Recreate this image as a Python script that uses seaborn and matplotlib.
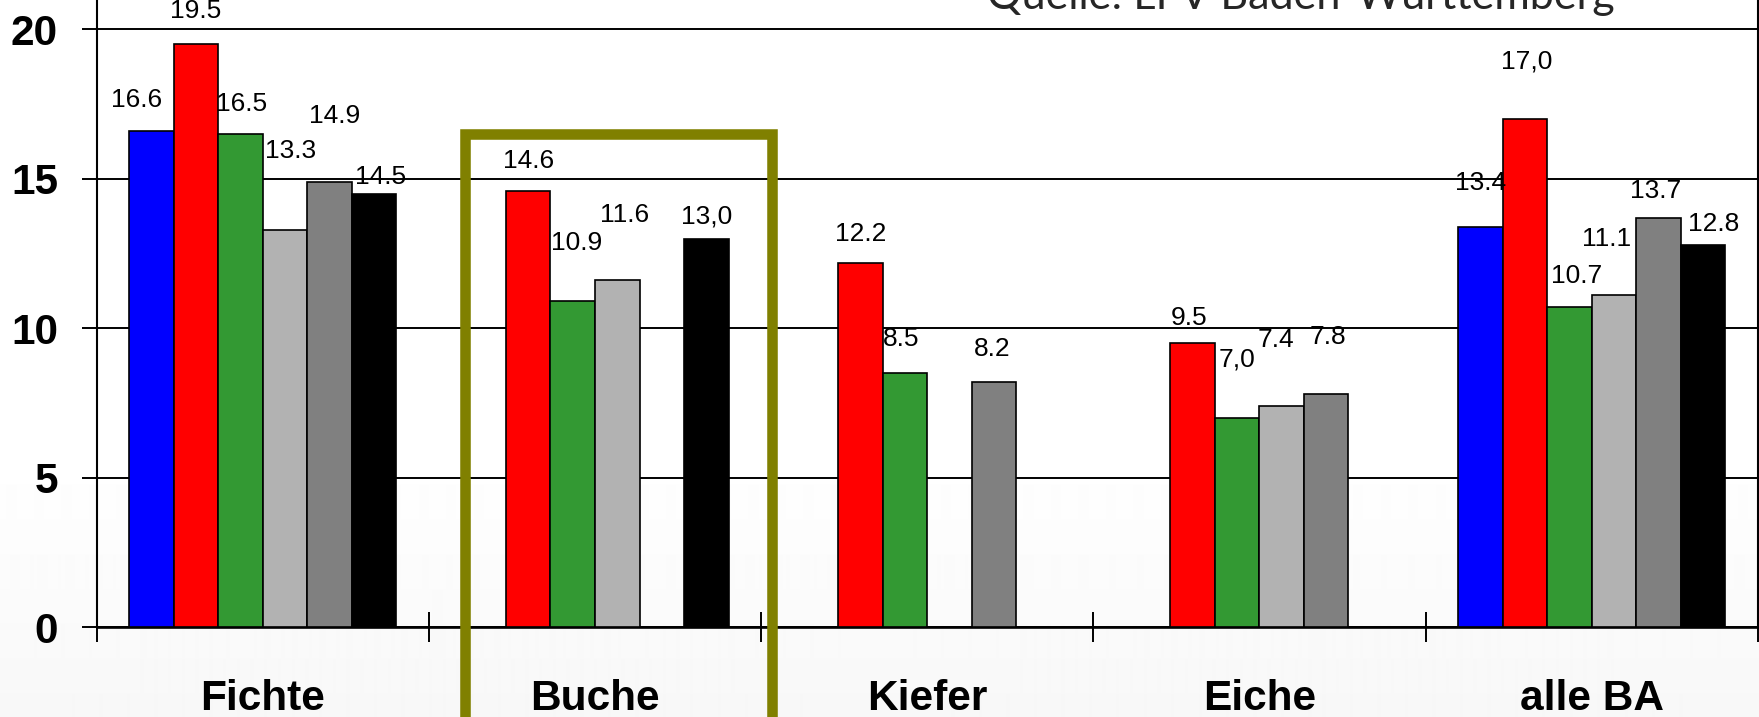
import matplotlib
matplotlib.use("Agg")
import matplotlib.pyplot as plt
import seaborn as sns
import numpy as np
import pandas as pd
from matplotlib.patches import Rectangle

# ---- data -----------------------------------------------------------------
categories = ["Fichte", "Buche", "Kiefer", "Eiche", "alle BA"]
series = ["Reihe 1", "Reihe 2", "Reihe 3", "Reihe 4", "Reihe 5", "Reihe 6"]
nan = np.nan
fichte = [16.6, 19.5, 16.5, 13.3, 14.9, 14.5]
buche = [nan, 14.6, 10.9, 11.6, nan, 13.0]
kiefer = [nan, 12.2, 8.5, nan, 8.2, nan]
eiche = [nan, 9.5, 7.0, 7.4, 7.8, nan]
alle_ba = [13.4, 17.0, 10.7, 11.1, 13.7, 12.8]
# labels written with a decimal comma instead of a point
comma_labels = {("Buche", "Reihe 6"), ("Eiche", "Reihe 3"), ("alle BA", "Reihe 2")}
y_ticks = [0, 5, 10, 15, 20]
source_text = "Quelle: LFV Baden-Württemberg"

# ---- styling --------------------------------------------------------------
colors = ["#0000ff", "#ff0000", "#339933", "#b2b2b2", "#808080", "#000000"]
# label offsets (pixels) from the top centre of each bar
nudges = {
    "Fichte": [(-14.5, 31), (0, 33), (0.7, 30), (5.5, 79), (5, 66), (6, 16.5)],
    "Buche": [None, (0, 30), (4, 58), (7.5, 65), None, (0, 22)],
    "Kiefer": [None, (0, 29), (-4, 34), None, (-2, 33), None],
    "Eiche": [None, (-3.5, 25), (0, 58), (-6, 66), (2, 57.5), None],
    "alle BA": [(0, 44), (2, 58), (7, 31), (-7, 56), (-2.5, 27), (11, 20.6)],
}

sns.set_style("white")
plt.rcParams["font.family"] = ["Liberation Sans", "DejaVu Sans"]
plt.rcParams["text.color"] = "black"
plt.rcParams["xtick.color"] = "black"
plt.rcParams["ytick.color"] = "black"
plt.rcParams["xtick.labelcolor"] = "black"
plt.rcParams["ytick.labelcolor"] = "black"

W, H = 1759, 717
fig = plt.figure(figsize=(W / 100, H / 100), dpi=100)

# soft slide background: white fading to a light grey at the bottom
bg = fig.add_axes([0, 0, 1, 1], zorder=-10)
rows = np.arange(H)
shade = np.where(rows < 450, 1.0, 1.0 - (rows - 450) / (H - 450) * 0.03)
grad = np.repeat(shade[:, None], 2, axis=1)
bg.imshow(grad, cmap="gray", vmin=0, vmax=1, aspect="auto", extent=[0, 1, 0, 1],
          origin="upper", interpolation="bilinear")
bg.set_axis_off()

ymax = 21.5
px_per_unit = 29.9
ax = fig.add_axes([96.7 / W, 89.7 / H, (1757.7 - 96.7) / W, ymax * px_per_unit / H])
ax.set_facecolor("none")

values = {"Fichte": fichte, "Buche": buche, "Kiefer": kiefer, "Eiche": eiche, "alle BA": alle_ba}
rows_df = []
for cat in categories:
    for s, v in zip(series, values[cat]):
        if not np.isnan(v):
            rows_df.append({"Baumart": cat, "Reihe": s, "Wert": v})
df = pd.DataFrame(rows_df)

sns.barplot(data=df, x="Baumart", y="Wert", hue="Reihe", order=categories,
            hue_order=series, palette=dict(zip(series, colors)), width=0.804,
            edgecolor="black", linewidth=1.2, saturation=1, errorbar=None,
            legend=False, ax=ax, zorder=3)

ax.set_xlim(-0.5, 4.5)
ax.set_ylim(0, ymax)
ax.set_xlabel("")
ax.set_ylabel("")

# value labels
for s_idx, (s, cont) in enumerate(zip(series, ax.containers)):
    for bar in cont:
        h = bar.get_height()
        if np.isnan(h):
            continue
        xc = bar.get_x() + bar.get_width() / 2
        cat = categories[int(round(xc))]
        nd = nudges[cat][s_idx]
        if nd is None:
            continue
        txt = f"{h:.1f}"
        if (cat, s) in comma_labels:
            txt = txt.replace(".", ",")
        ax.annotate(txt, xy=(xc, h), xytext=nd, textcoords="offset pixels",
                    ha="center", va="center", fontsize=19, color="black",
                    zorder=6, annotation_clip=False)

# axes, ticks, grid
ax.set_yticks(y_ticks)
ax.set_yticklabels([str(t) for t in y_ticks], fontsize=30.5, fontweight="bold",
                   color="black")
ax.tick_params(axis="y", length=10.8, width=1.4, pad=17, color="black", left=True)
ax.set_xticks(range(len(categories)))
ax.set_xticklabels(categories, fontsize=30.5, fontweight="bold", color="black")
ax.tick_params(axis="x", which="major", length=0, pad=37)
ax.set_xticks(np.arange(-0.5, len(categories)), minor=True)
ax.tick_params(axis="x", which="minor", direction="inout", length=21.6, width=1.4,
               color="black", bottom=True)
ax.yaxis.grid(True, color="black", linewidth=1.4)
ax.xaxis.grid(False)
ax.set_axisbelow(True)
ax.spines["top"].set_visible(False)
for side in ["left", "right"]:
    ax.spines[side].set_color("black")
    ax.spines[side].set_linewidth(1.5)
ax.spines["bottom"].set_color("black")
ax.spines["bottom"].set_linewidth(1.9)

# highlight frame around the Buche group
bi = categories.index("Buche")
frame = Rectangle((bi - 0.5 + 0.108, -5), 0.924, 16.5 + 5, fill=False,
                  edgecolor="#808000", linewidth=7.6, joinstyle="miter",
                  clip_on=False, zorder=5)
ax.add_patch(frame)

# source note at the top
src = fig.text(987 / W, 1 - 9 / H, source_text, fontfamily=["Lato", "DejaVu Sans"],
               fontsize=30, va="baseline", ha="left", color="#262626")
fig.canvas.draw()
wpx = src.get_window_extent().width
src.set_fontsize(30 * 628 / wpx)

fig.savefig("out.png", dpi=100)
